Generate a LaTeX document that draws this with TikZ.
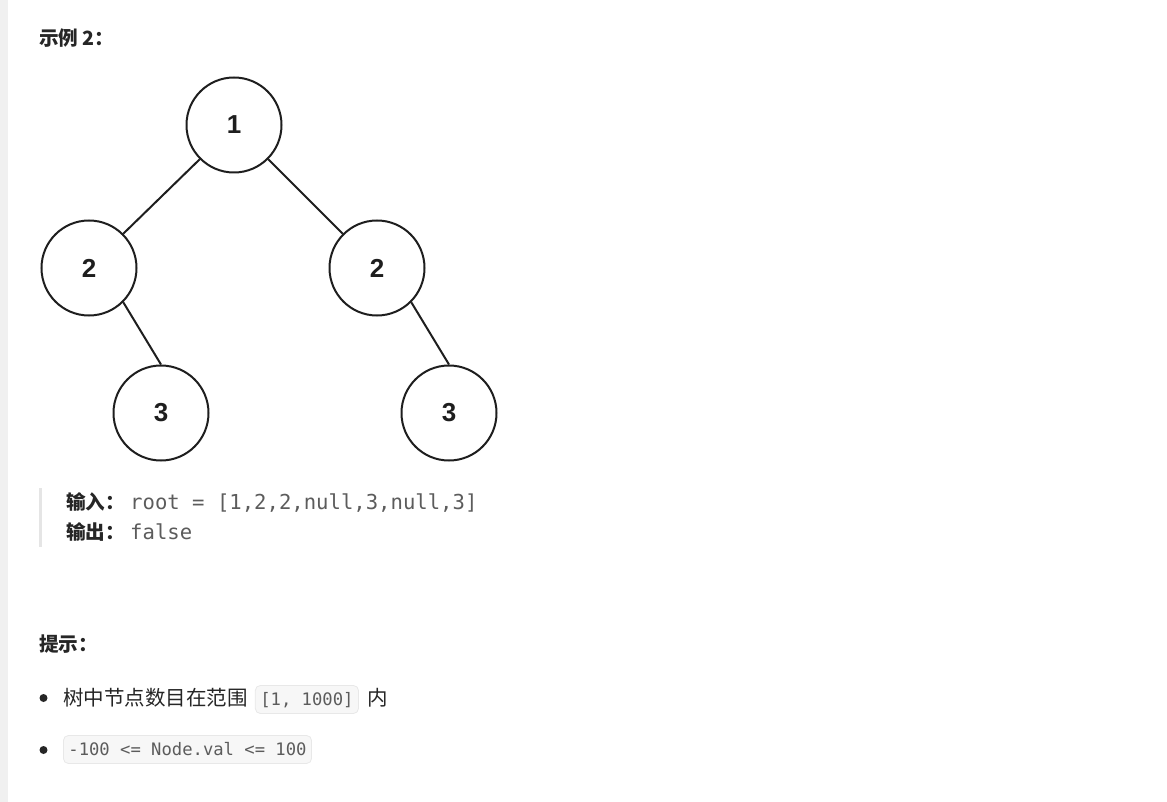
\documentclass[tikz,border=0pt]{standalone}
\usepackage{fontspec}
\usetikzlibrary{positioning}
\newfontfamily\cjk{Noto Sans CJK SC}
\newfontfamily\numfont{Liberation Sans}
\newfontfamily\codefont{DejaVu Sans Mono}
\definecolor{ctext}{RGB}{38,38,38}
\definecolor{ccode}{RGB}{92,92,92}
\definecolor{cline}{RGB}{30,30,30}
\definecolor{cstrip}{RGB}{240,240,240}
\definecolor{cquote}{RGB}{229,229,229}
\definecolor{cboxfill}{RGB}{247,247,247}
\definecolor{cboxdraw}{RGB}{232,232,232}

\begin{document}
\begin{tikzpicture}[
    x=1pt, y=-1pt,
    treenode/.style={circle, draw=cline, line width=2pt, minimum size=95pt, inner sep=0pt,
                     font=\numfont\fontsize{26}{30}\selectfont\bfseries, text=cline},
    edge/.style={draw=cline, line width=2pt},
    txt/.style={anchor=base west, inner sep=0pt, text=ctext, font=\cjk\fontsize{20.5}{24}\selectfont},
    head/.style={txt, font=\cjk\fontsize{19.6}{24}\selectfont\bfseries},
    pre/.style={anchor=base west, inner sep=0pt, text=ccode, font=\codefont\fontsize{20.6}{24}\selectfont},
    code/.style={rounded corners=5pt, draw=cboxdraw, fill=cboxfill, line width=0.8pt, text=ccode,
                 inner xsep=5pt, inner ysep=6pt, text height=14pt, text depth=2pt,
                 font=\codefont\fontsize{17.2}{20}\selectfont},
    dot/.style={circle, fill=ctext, inner sep=0pt, minimum size=8pt},
  ]
  \useasboundingbox (0,0) rectangle (1167,802);
  \fill[cstrip] (0,0) rectangle (8,802);

  %% Title
  \node[head] (title) at (39,46) {示例 2：};

  %% Tree
  \node[treenode] (n1)  at (234,125) {1};
  \node[treenode] (n2l) at (89,268)  {2};
  \node[treenode] (n2r) at (377,268) {2};
  \node[treenode] (n3l) at (161,413) {3};
  \node[treenode] (n3r) at (449,413) {3};

  \draw[edge] (n1.south west)  -- (n2l.north east);
  \draw[edge] (n1.south east)  -- (n2r.north west);
  \draw[edge] (n2l.south east) -- (n3l.north);
  \draw[edge] (n2r.south east) -- (n3r.north);

  %% Input / Output
  \fill[cquote] (39,488) rectangle (42,547);
  \node[head] (inlbl)  at (66,509.5) {输入：};
  \node[pre]  (inval)  at (130,509.5) {root = [1,2,2,null,3,null,3]};
  \node[head] (outlbl) at (66,539.5) {输出：};
  \node[pre]  (outval) at (130,539.5) {false};

  %% Hints
  \node[head] (hint) at (39,651.5) {提示：};
  \node[dot] (b1) at (43.5,698) {};
  \node[txt] (t1) at (63,705.5) {树中节点数目在范围};
  \node[code, base right=7pt of t1] (c1) {[1, 1000]};
  \node[txt, base right=8pt of c1] (t1b) {内};
  \node[dot] (b2) at (43.5,750) {};
  \node[code, anchor=base west] (c2) at (63,755.5) {-100 <= Node.val <= 100};

\end{tikzpicture}
\end{document}
